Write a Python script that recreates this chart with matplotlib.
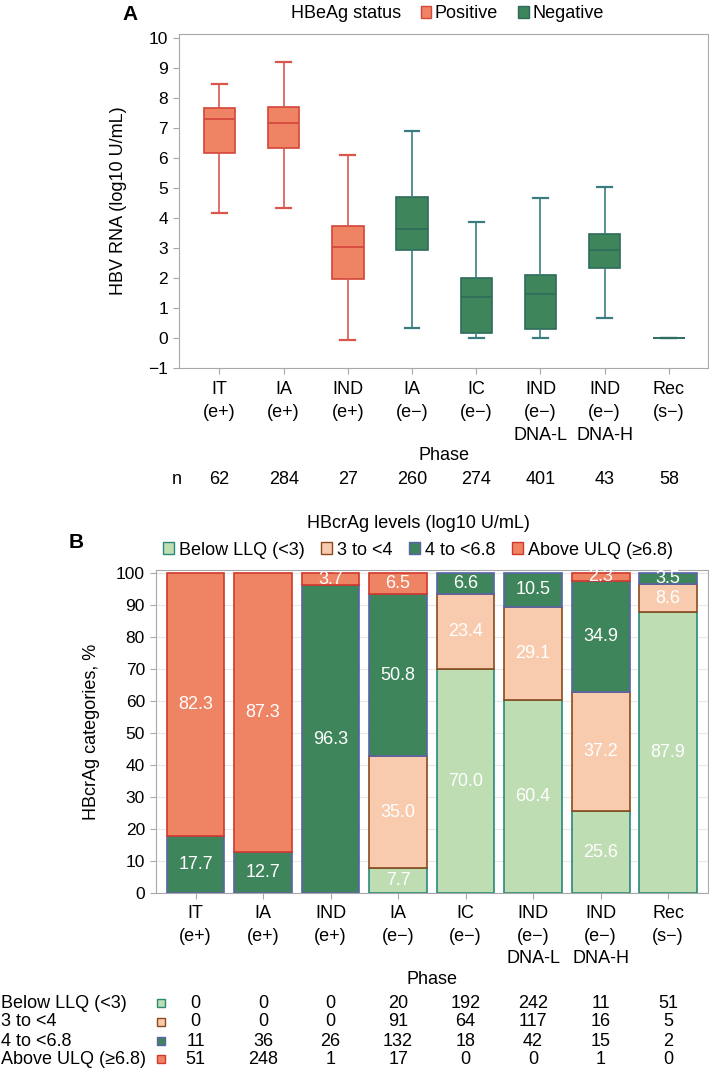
import matplotlib
matplotlib.use("Agg")
import matplotlib.pyplot as plt
from matplotlib.patches import Patch
from matplotlib.transforms import blended_transform_factory
import numpy as np

plt.rcParams['font.family'] = ['Liberation Sans', 'DejaVu Sans']
plt.rcParams['font.size'] = 13

# --- dados ---
phases = ["IT\n(e+)", "IA\n(e+)", "IND\n(e+)", "IA\n(e−)", "IC\n(e−)",
          "IND\n(e−)\nDNA-L", "IND\n(e−)\nDNA-H", "Rec\n(s−)"]
hbeag = ["Positive", "Positive", "Positive", "Negative", "Negative",
         "Negative", "Negative", "Negative"]
n_rna = [62, 284, 27, 260, 274, 401, 43, 58]

rna_whislo = [4.16, 4.32, -0.08, 0.34, 0.0, 0.0, 0.65, 0.0]
rna_q1 = [6.16, 6.33, 1.97, 2.94, 0.16, 0.30, 2.32, 0.0]
rna_med = [7.29, 7.15, 3.03, 3.63, 1.35, 1.45, 2.93, 0.0]
rna_q3 = [7.64, 7.70, 3.74, 4.70, 2.00, 2.11, 3.46, 0.0]
rna_whishi = [8.45, 9.20, 6.10, 6.88, 3.85, 4.67, 5.04, 0.0]

cat_names = ["Below LLQ (<3)", "3 to <4", "4 to <6.8", "Above ULQ (≥6.8)"]
pct_below = [0, 0, 0, 7.7, 70.0, 60.4, 25.6, 87.9]
pct_3to4 = [0, 0, 0, 35.0, 23.4, 29.1, 37.2, 8.6]
pct_4to68 = [17.7, 12.7, 96.3, 50.8, 6.6, 10.5, 34.9, 3.5]
pct_above = [82.3, 87.3, 3.7, 6.5, 0, 0, 2.3, 0]

n_below = [0, 0, 0, 20, 192, 242, 11, 51]
n_3to4 = [0, 0, 0, 91, 64, 117, 16, 5]
n_4to68 = [11, 36, 26, 132, 18, 42, 15, 2]
n_above = [51, 248, 1, 17, 0, 0, 1, 0]

# --- cores ---
status_fill = {"Positive": "#EF8465", "Negative": "#3F855B"}
status_edge = {"Positive": "#D4453A", "Negative": "#2D6B5A"}
status_whisk = {"Positive": "#D9564C", "Negative": "#3A7D80"}
cat_fill = ["#BEDDB3", "#F9CBAE", "#3F855B", "#EF8465"]
cat_edge = ["#2A8A7A", "#8B4A1C", "#5A62A8", "#D2382B"]
spine_c = "#A8A8A8"

W, H = 709, 1070
def fx(px):
    return px / W
def fy(py):
    return 1 - py / H

fig = plt.figure(figsize=(W / 100, H / 100), dpi=100)
x = np.arange(1, len(phases) + 1)

# ================= Painel A =================
axA = fig.add_axes([fx(179), fy(368), (708 - 179) / W, (368 - 34) / H])
stats = []
for i in range(len(phases)):
    stats.append(dict(med=rna_med[i], q1=rna_q1[i], q3=rna_q3[i],
                      whislo=rna_whislo[i], whishi=rna_whishi[i], fliers=[]))
bp = axA.bxp(stats, positions=x, widths=0.49, patch_artist=True,
             showfliers=False, manage_ticks=False, capwidths=0.23)
for i, st in enumerate(hbeag):
    bp['boxes'][i].set(facecolor=status_fill[st], edgecolor=status_edge[st], linewidth=1.2)
    bp['medians'][i].set(color=status_edge[st], linewidth=1.2)
    for k in (2 * i, 2 * i + 1):
        bp['whiskers'][k].set(color=status_whisk[st], linewidth=1.2)
        bp['caps'][k].set(color=status_whisk[st], linewidth=1.6)

axA.set_xlim(0.37, 8.61)
axA.set_ylim(-1, 10.12)
axA.set_yticks(range(-1, 11))
axA.set_xticks(x, phases, linespacing=1.5)
axA.set_ylabel("HBV RNA (log10 U/mL)")
axA.yaxis.set_label_coords(-0.098, 0.5)
for s in axA.spines.values():
    s.set_color(spine_c)
axA.tick_params(color=spine_c, length=4, pad=5)
axA.tick_params(axis="y", labelsize=12.5, pad=4)

tA = blended_transform_factory(axA.transData, fig.transFigure)
fig.text(fx(444), fy(455), "Phase", ha="center", va="center")
fig.text(fx(177), fy(479), "n", ha="center", va="center")
for xi, nv in zip(x, n_rna):
    axA.text(xi, fy(479), str(nv), transform=tA, ha="center", va="center")

hA = [Patch(alpha=0), Patch(fc=status_fill["Positive"], ec=status_edge["Positive"]),
      Patch(fc=status_fill["Negative"], ec=status_edge["Negative"])]
fig.legend(hA, ["HBeAg status", "Positive", "Negative"], loc="center",
           bbox_to_anchor=(fx(440), fy(14)), ncol=3, frameon=False,
           handlelength=0.6, handleheight=0.6, handletextpad=0.2, columnspacing=1.1)
fig.text(fx(130), fy(14), "A", weight="bold", fontsize=15, ha="center", va="center")

# ================= Painel B =================
axB = fig.add_axes([fx(156), fy(893), (708 - 156) / W, (893 - 570) / H])
series = [pct_below, pct_3to4, pct_4to68, pct_above]
bottom = np.zeros(len(phases))
for j, vals in enumerate(series):
    vals = np.array(vals, dtype=float)
    lw = [1.2 if v > 0 else 0 for v in vals]
    axB.bar(x, vals, width=0.855, bottom=bottom, color=cat_fill[j],
            edgecolor=cat_edge[j], linewidth=lw, zorder=2)
    for xi, b, v in zip(x, bottom, vals):
        if v > 0:
            axB.text(xi, b + v / 2, f"{v:.1f}", ha="center", va="center",
                     color="white", zorder=3)
    bottom += vals

axB.set_xlim(0.415, 8.59)
axB.set_ylim(0, 101)
axB.set_yticks(range(0, 101, 10))
axB.set_xticks(x, phases, linespacing=1.4)
axB.set_ylabel("HBcrAg categories, %")
axB.yaxis.set_label_coords(-0.101, 0.5)
axB.yaxis.grid(True, color="#E8E8E8", linewidth=0.8)
axB.set_axisbelow(True)
for s in axB.spines.values():
    s.set_color(spine_c)
axB.tick_params(color=spine_c, length=4, pad=5)
axB.tick_params(axis="y", labelsize=12.5, pad=4)

hB = [Patch(fc=cat_fill[j], ec=cat_edge[j]) for j in range(4)]
fig.legend(hB, cat_names, loc="center", bbox_to_anchor=(fx(418), fy(537)),
           ncol=4, frameon=False, title="HBcrAg levels (log10 U/mL)",
           title_fontsize=13, handlelength=0.6, handleheight=0.6,
           handletextpad=0.3, columnspacing=0.9, borderpad=0.1)
fig.text(fx(76), fy(543), "B", weight="bold", fontsize=15, ha="center", va="center")

fig.text(fx(432), fy(980), "Phase", ha="center", va="center")
tB = blended_transform_factory(axB.transData, fig.transFigure)
rows_y = [1003, 1022, 1041, 1059]
counts = [n_below, n_3to4, n_4to68, n_above]
for j, (name, ry, cnt) in enumerate(zip(cat_names, rows_y, counts)):
    fig.text(fx(1), fy(ry), name, ha="left", va="center")
    axB.plot([fx(161)], [fy(ry)], transform=fig.transFigure, marker="s", ms=5.5,
             mfc=cat_fill[j], mec=cat_edge[j], mew=1, clip_on=False)
    for xi, c in zip(x, cnt):
        axB.text(xi, fy(ry), str(c), transform=tB, ha="center", va="center")

fig.savefig("out.png", dpi=100)
